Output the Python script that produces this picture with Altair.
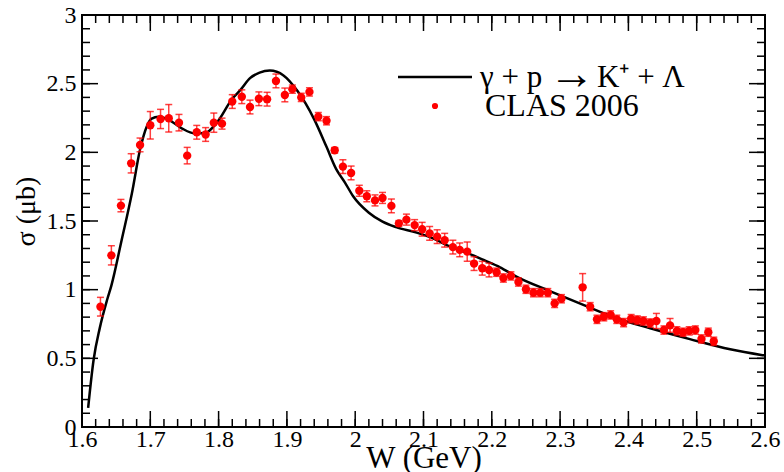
import altair as alt
import pandas as pd

# ---- data ----
w_data = [1.627,1.643,1.657,1.672,1.685,1.700,1.715,1.727,1.742,1.754,
          1.768,1.781,1.793,1.805,1.820,1.834,1.846,1.859,1.871,1.884,
          1.897,1.908,1.921,1.933,1.946,1.958,1.970,1.982,1.994,2.006,
          2.017,2.029,2.040,2.053,2.064,2.075,2.087,2.098,2.109,2.120,
          2.131,2.143,2.153,2.164,2.174,2.186,2.196,2.207,2.217,2.228,
          2.239,2.250,2.261,2.271,2.282,2.292,2.302,2.333,2.344,2.354,
          2.364,2.374,2.383,2.393,2.404,2.413,2.422,2.432,2.441,2.452,
          2.461,2.471,2.480,2.489,2.498,2.507,2.517,2.525]
sigma_data = [0.876,1.250,1.612,1.920,2.054,2.197,2.243,2.248,2.216,1.976,
              2.146,2.130,2.216,2.209,2.370,2.405,2.330,2.390,2.387,2.520,
              2.418,2.460,2.400,2.440,2.260,2.230,2.015,1.896,1.850,1.720,
              1.680,1.650,1.668,1.610,1.483,1.510,1.470,1.440,1.410,1.386,
              1.360,1.310,1.290,1.277,1.190,1.156,1.143,1.127,1.085,1.100,
              1.056,1.003,0.978,0.978,0.978,0.900,0.934,1.017,0.876,0.784,
              0.803,0.816,0.784,0.760,0.789,0.779,0.772,0.757,0.772,0.706,
              0.740,0.700,0.690,0.700,0.706,0.641,0.690,0.624]
sigma_err = [0.068,0.070,0.045,0.070,0.050,0.100,0.070,0.100,0.060,0.060,
             0.050,0.050,0.070,0.040,0.050,0.050,0.050,0.050,0.050,0.050,
             0.050,0.030,0.030,0.030,0.030,0.030,0.020,0.050,0.050,0.040,
             0.040,0.040,0.040,0.050,0.020,0.040,0.040,0.050,0.050,0.050,
             0.050,0.050,0.050,0.070,0.050,0.050,0.050,0.030,0.030,0.030,
             0.030,0.030,0.030,0.030,0.030,0.030,0.030,0.100,0.030,0.030,
             0.030,0.030,0.030,0.030,0.030,0.030,0.030,0.030,0.055,0.030,
             0.050,0.030,0.030,0.030,0.030,0.030,0.030,0.030]

w_curve = [1.609,1.617,1.626,1.637,1.643,1.658,1.673,1.685,1.695,1.702,
           1.712,1.726,1.746,1.765,1.780,1.798,1.820,1.833,1.846,1.860,
           1.875,1.895,1.915,1.940,1.958,1.972,1.985,1.997,2.020,2.040,
           2.060,2.090,2.114,2.139,2.163,2.188,2.212,2.236,2.285,2.334,
           2.383,2.432,2.490,2.549,2.600]
sigma_curve = [0.14,0.49,0.72,0.93,1.03,1.36,1.70,2.02,2.19,2.245,
               2.26,2.24,2.175,2.138,2.14,2.22,2.39,2.46,2.54,2.58,
               2.595,2.56,2.45,2.24,2.04,1.88,1.78,1.68,1.56,1.495,
               1.455,1.415,1.374,1.313,1.27,1.216,1.163,1.095,0.99,0.889,
               0.792,0.719,0.64,0.566,0.52]

x_major = [1.6,1.7,1.8,1.9,2.0,2.1,2.2,2.3,2.4,2.5,2.6]
y_major = [0,0.5,1,1.5,2,2.5,3]
x_minor = [round(1.6 + 0.02 * i, 2) for i in range(51)]
y_minor = [round(0.1 * i, 1) for i in range(31)]

legend_line_a = "γ + p"
legend_arrow = "→"
legend_line_b = "K⁺ + Λ"
legend_dots = "CLAS 2006"

# ---- layout ----
W, H = 683, 412
MAJ, MIN = 16, 8
FONT = "Liberation Serif"

pts = pd.DataFrame({"x": w_data, "y": sigma_data})
pts["lo"] = [v - e for v, e in zip(sigma_data, sigma_err)]
pts["hi"] = [v + e for v, e in zip(sigma_data, sigma_err)]
curve = pd.DataFrame({"x": w_curve, "y": sigma_curve})

xs = alt.Scale(domain=[1.6, 2.6], nice=False, zero=False)
ys = alt.Scale(domain=[0, 3], nice=False, zero=False)
xaxis = alt.Axis(values=x_major, format="~g", title="W (GeV)", titleFontSize=31,
                 titleY=40, titleBaseline="alphabetic", labelBaseline="alphabetic",
                 labelPadding=19, labelFlush=False, labelOverlap=False)
yaxis = alt.Axis(values=y_major, format="~g", title="σ (μb)", titleFontSize=28,
                 titleX=-56, titleY=196, titleAngle=270, titleAlign="center",
                 titleBaseline="middle", labelPadding=6, labelFlush=False,
                 labelOverlap=False)


def X(f):
    return alt.X(f, type="quantitative", scale=xs, axis=xaxis)


def Y(f):
    return alt.Y(f, type="quantitative", scale=ys, axis=yaxis)


red = "#ff0000"
line = alt.Chart(curve).mark_line(color="black", strokeWidth=2.5,
                                  interpolate="monotone").encode(x=X("x"), y=Y("y"))
bars = alt.Chart(pts).mark_rule(color=red, opacity=0.75, strokeWidth=1.5).encode(
    x=X("x"), y=Y("lo"), y2="hi:Q")
cap_lo = alt.Chart(pts).mark_tick(orient="horizontal", size=7, thickness=1.5,
                                  color=red, opacity=0.75).encode(x=X("x"), y=Y("lo"))
cap_hi = alt.Chart(pts).mark_tick(orient="horizontal", size=7, thickness=1.5,
                                  color=red, opacity=0.75).encode(x=X("x"), y=Y("hi"))
dots = alt.Chart(pts).mark_circle(size=70, color=red, opacity=1).encode(x=X("x"), y=Y("y"))

xmaj = pd.DataFrame({"x": x_major})
xmin = pd.DataFrame({"x": x_minor})
ymaj = pd.DataFrame({"y": y_major})
ymin = pd.DataFrame({"y": y_minor})


def xticks(df, ln):
    b = alt.Chart(df).mark_rule(color="black", strokeWidth=1.5).encode(
        x=X("x"), y=alt.value(H), y2=alt.value(H - ln))
    t = alt.Chart(df).mark_rule(color="black", strokeWidth=1.5).encode(
        x=X("x"), y=alt.value(0), y2=alt.value(ln))
    return [b, t]


def yticks(df, ln):
    l = alt.Chart(df).mark_rule(color="black", strokeWidth=1.5).encode(
        y=Y("y"), x=alt.value(0), x2=alt.value(ln))
    r = alt.Chart(df).mark_rule(color="black", strokeWidth=1.5).encode(
        y=Y("y"), x=alt.value(W), x2=alt.value(W - ln))
    return [l, r]


one = pd.DataFrame({"k": [0]})


def legend_text(txt, x, y, size):
    return alt.Chart(one).mark_text(align="left", baseline="alphabetic", font=FONT,
                                    fontSize=size, color="black").encode(
        x=alt.value(x), y=alt.value(y), text=alt.value(txt))


leg_line = alt.Chart(one).mark_rule(color="black", strokeWidth=2.5).encode(
    x=alt.value(316), x2=alt.value(390), y=alt.value(62))
leg_a = legend_text(legend_line_a, 398, 72, 31)
leg_arrow = legend_text(legend_arrow, 467, 74, 46)
leg_b = legend_text(legend_line_b, 515, 72, 31)
leg_dot = alt.Chart(one).mark_circle(size=38, color=red, opacity=1).encode(
    x=alt.value(353), y=alt.value(91))
leg_text2 = legend_text(legend_dots, 403, 101, 32)

layers = ([line, bars, cap_lo, cap_hi, dots]
          + xticks(xmaj, MAJ) + xticks(xmin, MIN)
          + yticks(ymaj, MAJ) + yticks(ymin, MIN)
          + [leg_line, leg_a, leg_arrow, leg_b, leg_dot, leg_text2])

chart = alt.layer(*layers).properties(
    width=W, height=H,
    background="white",
    autosize=alt.AutoSizeParams(type="none"),
    padding={"left": 82, "top": 15, "right": 19, "bottom": 45},
).configure_view(stroke="black", strokeWidth=2).configure_axis(
    domain=False, ticks=False, tickSize=0, grid=False,
    labelFont=FONT, labelFontSize=24, labelColor="black",
    titleFont=FONT, titleFontWeight="normal", titleColor="black",
)

chart.save("out.html", embed_options={"renderer": "svg", "actions": False})
